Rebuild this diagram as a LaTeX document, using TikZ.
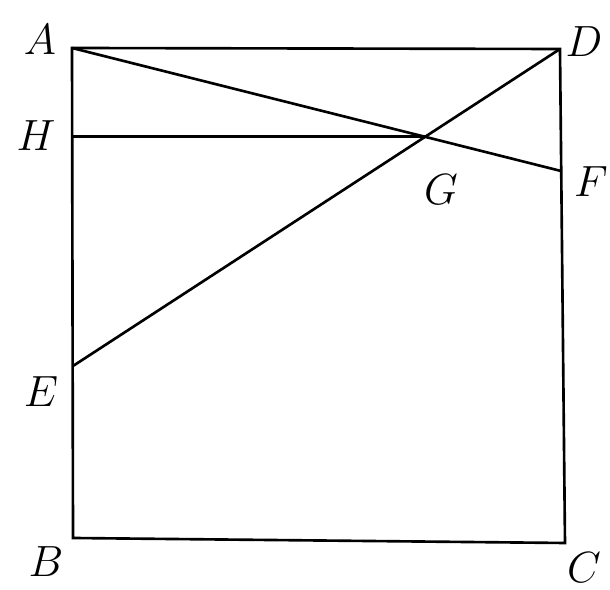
\documentclass[tikz,border=0pt]{standalone}
\usetikzlibrary{calc}

\begin{document}
\begin{tikzpicture}[x=0.02cm, y=-0.02cm, l/.style={line width=1.5pt}, p/.style={font=\fontsize{25}{30}\selectfont, inner sep=0pt}]
  \useasboundingbox (0,0) rectangle (610,590);
  \coordinate (A) at (72,48);
  \coordinate (D) at (560,49);
  \coordinate (B) at (73,538);
  \coordinate (C) at (565,543);
  \coordinate (E) at (73,366);
  \coordinate (F) at (561,171);
  \coordinate (G) at (intersection of A--F and D--E);
  \coordinate (H) at (A |- G);
  \draw[l] (A)--(D)--(C)--(B)--cycle;
  \draw[l] (A)--(F);
  \draw[l] (D)--(E);
  \draw[l] (H)--(G);
  \node[p](lA) at (40,40){$A$};
  \node[p](lD) at (584,42){$D$};
  \node[p](lH) at (36,136){$H$};
  \node[p](lG) at (441,190){$G$};
  \node[p](lF) at (591,182){$F$};
  \node[p](lE) at (41,392){$E$};
  \node[p](lB) at (46,562){$B$};
  \node[p](lC) at (584,568){$C$};
\end{tikzpicture}
\end{document}
